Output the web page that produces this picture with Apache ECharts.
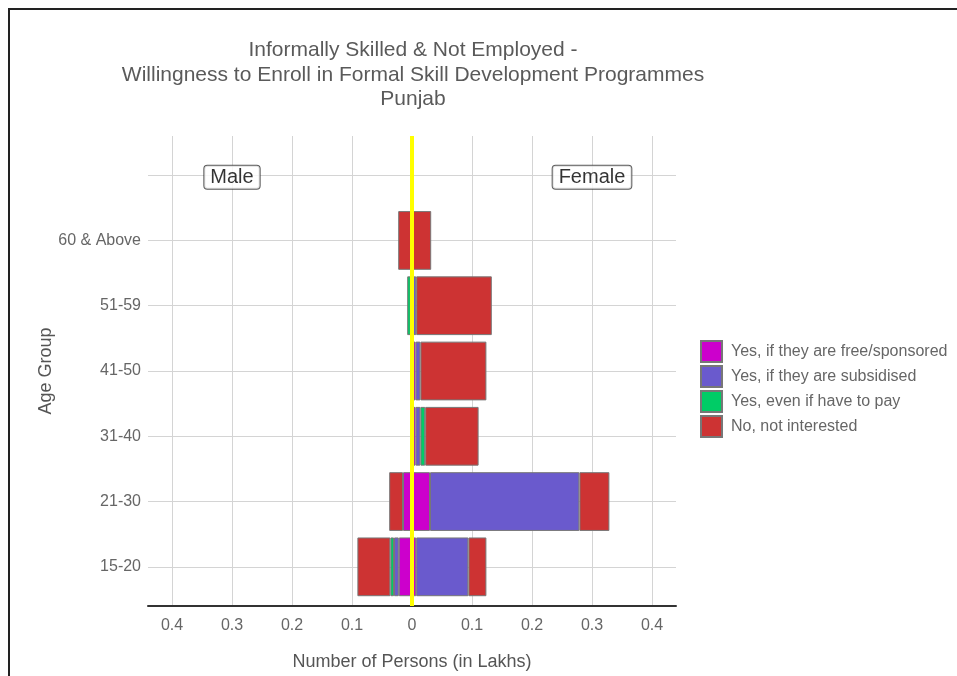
<!DOCTYPE html>
<html>
<head>
<meta charset="utf-8">
<script src="https://cdn.jsdelivr.net/npm/echarts@6/dist/echarts.min.js"></script>
<style>
  html, body { margin: 0; padding: 0; background: #fff; }
  #chart { width: 957px; height: 676px; }
</style>
</head>
<body>
<div id="chart"></div>
<script>
// age groups, bottom to top
const ages = ['15-20', '21-30', '31-40', '41-50', '51-59', '60 & Above'];
const responses = [
  'Yes, if they are free/sponsored',
  'Yes, if they are subsidised',
  'Yes, even if have to pay',
  'No, not interested'
];
const colors = ['#CC00CC', '#6A5ACD', '#00CC66', '#CD3333'];

// values in lakhs
const maleFree = [0.022, 0.015, 0, 0, 0, 0];
const maleSubsidised = [0.008, 0, 0, 0, 0.002, 0];
const malePay = [0.006, 0, 0, 0, 0.006, 0];
const maleNo = [0.055, 0.023, 0, 0, 0, 0.023];

const femaleFree = [0.007, 0.03, 0.006, 0.006, 0, 0];
const femaleSubsidised = [0.087, 0.249, 0.008, 0.008, 0.007, 0];
const femalePay = [0, 0, 0.008, 0, 0, 0];
const femaleNo = [0.03, 0.05, 0.089, 0.11, 0.126, 0.032];

const sexLabels = [[-0.3, 7, 'Male'], [0.3, 7, 'Female']];

const male = [maleFree, maleSubsidised, malePay, maleNo];
const female = [femaleFree, femaleSubsidised, femalePay, femaleNo];

const chart = echarts.init(document.getElementById('chart'));
const font = 'Liberation Sans, Arial, sans-serif';

// plot panel 148..676 x 136..606, ggplot-style 0.6 padding on the discrete axis
const panel = { left: 148, top: 136, width: 528, height: 470 };
const step = panel.height / 7.2;

const barSeries = [];
responses.forEach((name, i) => {
  [male[i].map((v) => (v ? -v : '-')), female[i].map((v) => (v ? v : '-'))].forEach((data) => {
    barSeries.push({
      name,
      type: 'bar',
      stack: 'total',
      xAxisIndex: 0,
      yAxisIndex: 0,
      barWidth: '90%',
      itemStyle: { color: colors[i], borderColor: '#777', borderWidth: 1 },
      data: data.concat(['-'])
    });
  });
});

chart.setOption({
  animation: false,
  backgroundColor: '#fff',
  textStyle: { fontFamily: font },
  title: {
    text: 'Informally Skilled & Not Employed -\nWillingness to Enroll in Formal Skill Development Programmes\nPunjab',
    left: 408,
    top: 33,
    textAlign: 'center',
    textStyle: { fontSize: 21, fontWeight: 'normal', color: '#5a5a5a', lineHeight: 24.5, align: 'center' }
  },
  legend: {
    orient: 'vertical',
    left: 700,
    top: 340,
    itemWidth: 21,
    itemHeight: 21,
    itemGap: 2,
    icon: 'rect',
    padding: 0,
    data: responses,
    textStyle: { fontSize: 16, color: '#666', padding: [0, 0, 0, 4] }
  },
  graphic: [{
    type: 'rect',
    shape: { x: 9, y: 9, width: 1100, height: 1100 },
    style: { fill: 'none', stroke: '#222', lineWidth: 2 },
    silent: true
  }],
  grid: [
    { left: panel.left, width: panel.width, top: panel.top + 0.1 * step, height: 7 * step },
    { left: panel.left, width: panel.width, top: panel.top, height: panel.height }
  ],
  xAxis: [
    { gridIndex: 0, type: 'value', min: -0.44, max: 0.44, show: false },
    {
      gridIndex: 1,
      type: 'value',
      min: -0.44,
      max: 0.44,
      splitNumber: 8,
      name: 'Number of Persons (in Lakhs)',
      nameLocation: 'middle',
      nameGap: 47,
      nameTextStyle: { fontSize: 18, color: '#555' },
      axisLine: { show: true, onZero: false, lineStyle: { color: '#333', width: 2 } },
      axisTick: { show: false },
      axisLabel: {
        fontSize: 16,
        color: '#666',
        margin: 12,
        showMinLabel: false,
        showMaxLabel: false,
        formatter: (v) => String(Math.abs(Math.round(v * 10) / 10))
      },
      splitLine: { show: true, showMinLine: false, showMaxLine: false, lineStyle: { color: '#d4d4d4', width: 1 } }
    }
  ],
  yAxis: [
    { gridIndex: 0, type: 'category', data: ages.concat(['']), show: false },
    {
      gridIndex: 1,
      type: 'value',
      min: 0.4,
      max: 7.6,
      splitNumber: 7,
      name: 'Age Group',
      nameLocation: 'middle',
      nameGap: 93,
      nameMoveOverlap: false,
      nameTextStyle: { fontSize: 18, color: '#555' },
      axisLine: { show: false },
      axisTick: { show: false },
      axisLabel: {
        fontSize: 16,
        color: '#666',
        margin: 7,
        showMinLabel: false,
        showMaxLabel: false,
        formatter: (v) => (Number.isInteger(v) && v >= 1 && v <= ages.length ? ages[v - 1] : '')
      },
      splitLine: { show: true, showMinLine: false, showMaxLine: false, lineStyle: { color: '#d4d4d4', width: 1 } }
    }
  ],
  series: barSeries.concat([{
    type: 'scatter',
    xAxisIndex: 1,
    yAxisIndex: 1,
    z: 10,
    symbolSize: 0,
    silent: true,
    data: sexLabels,
    label: {
      show: true,
      position: 'inside',
      offset: [0, 2],
      formatter: (p) => p.value[2],
      fontSize: 20,
      color: '#000',
      backgroundColor: '#fff',
      borderColor: '#333',
      borderWidth: 1,
      borderRadius: 3,
      padding: [2, 6, 1, 6]
    },
    markLine: {
      silent: true,
      symbol: ['none', 'none'],
      label: { show: false },
      lineStyle: { color: '#ffff00', width: 4, type: 'solid' },
      data: [{ xAxis: 0 }]
    }
  }])
});
</script>
</body>
</html>
